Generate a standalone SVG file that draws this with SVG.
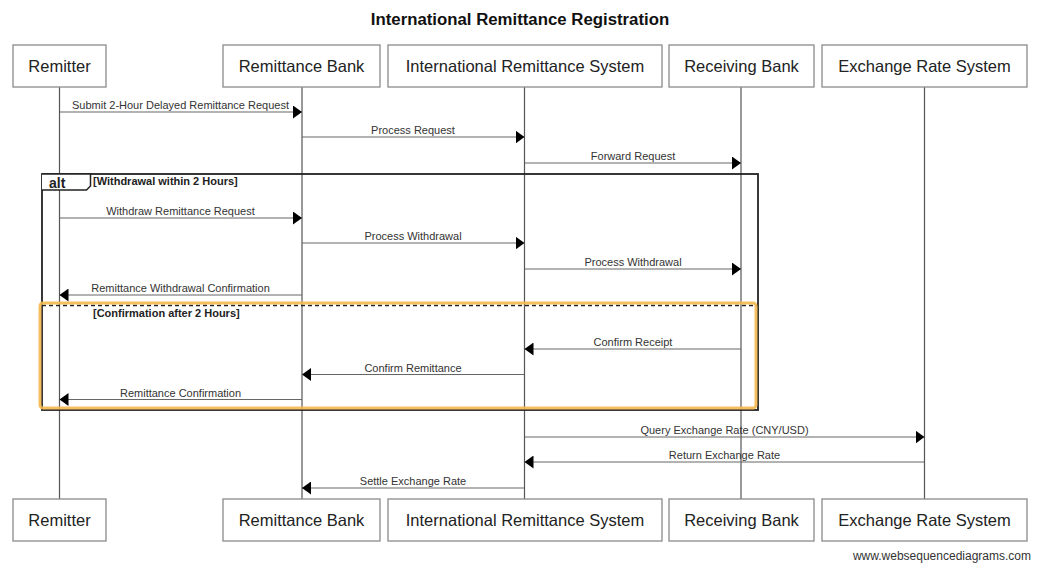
<svg xmlns="http://www.w3.org/2000/svg" width="1039" height="568" viewBox="0 0 1039 568">
<style>
.box{fill:#fff;stroke:#8a8a8a;stroke-width:1.3}
.plabel{font-family:"Liberation Sans",Arial,sans-serif;font-size:16.5px;fill:#222;text-anchor:middle}
.life{stroke:#555;stroke-width:1.2}
.msg{stroke:#666;stroke-width:1.2;fill:none;marker-end:url(#arr)}
.mlabel{font-family:"Liberation Sans",Arial,sans-serif;font-size:11px;fill:#333;text-anchor:middle}
.guard{font-family:"Liberation Sans",Arial,sans-serif;font-size:11px;font-weight:bold;fill:#222}
</style>
<defs>
<marker id="arr" markerUnits="userSpaceOnUse" markerWidth="10" markerHeight="13" refX="9" refY="6.5" orient="auto">
<path d="M0,0 L9,6.5 L0,13 z" fill="#000"/>
</marker>
</defs>
<rect width="1039" height="568" fill="#fff"/>
<text x="520" y="25" font-family="Liberation Sans,Arial,sans-serif" font-size="16.8" font-weight="bold" fill="#111" text-anchor="middle">International Remittance Registration</text>

<g id="lifelines">
<line class="life" x1="59.5" y1="87" x2="59.5" y2="499"/>
<line class="life" x1="302" y1="87" x2="302" y2="499"/>
<line class="life" x1="524.5" y1="87" x2="524.5" y2="499"/>
<line class="life" x1="741" y1="87" x2="741" y2="499"/>
<line class="life" x1="924.5" y1="87" x2="924.5" y2="499"/>
</g>

<g id="remitter">
<rect class="box" x="13" y="45" width="93" height="42"/>
<text class="plabel" x="59.5" y="72">Remitter</text>
<rect class="box" x="13" y="499" width="93" height="42"/>
<text class="plabel" x="59.5" y="526">Remitter</text>
</g>
<g id="remittance-bank">
<rect class="box" x="223" y="45" width="157" height="42"/>
<text class="plabel" x="301.5" y="72">Remittance Bank</text>
<rect class="box" x="223" y="499" width="157" height="42"/>
<text class="plabel" x="301.5" y="526">Remittance Bank</text>
</g>
<g id="intl-remittance-system">
<rect class="box" x="388" y="45" width="274" height="42"/>
<text class="plabel" x="525" y="72">International Remittance System</text>
<rect class="box" x="388" y="499" width="274" height="42"/>
<text class="plabel" x="525" y="526">International Remittance System</text>
</g>
<g id="receiving-bank">
<rect class="box" x="669" y="45" width="145" height="42"/>
<text class="plabel" x="741.5" y="72">Receiving Bank</text>
<rect class="box" x="669" y="499" width="145" height="42"/>
<text class="plabel" x="741.5" y="526">Receiving Bank</text>
</g>
<g id="exchange-rate-system">
<rect class="box" x="822" y="45" width="205" height="42"/>
<text class="plabel" x="924.5" y="72">Exchange Rate System</text>
<rect class="box" x="822" y="499" width="205" height="42"/>
<text class="plabel" x="924.5" y="526">Exchange Rate System</text>
</g>

<g id="alt-frame">
<rect x="42" y="174" width="716" height="236" fill="none" stroke="#222" stroke-width="1.8"/>
<path d="M42,174 L90.5,174 L90.5,186 L86.5,190 L42,190" fill="#fff" stroke="#222" stroke-width="1.5"/>
<text x="49" y="187.5" font-family="Liberation Sans,Arial,sans-serif" font-size="14" font-weight="bold" fill="#222">alt</text>
<text class="guard" x="93" y="185">[Withdrawal within 2 Hours]</text>
<line x1="42" y1="305.5" x2="758" y2="305.5" stroke="#222" stroke-width="1.3" stroke-dasharray="4,3"/>
<text class="guard" x="93" y="317">[Confirmation after 2 Hours]</text>
</g>

<g id="connectors">
<line class="msg" x1="59.5" y1="112" x2="302" y2="112"/>
<text class="mlabel" x="180.5" y="109">Submit 2-Hour Delayed Remittance Request</text>
<line class="msg" x1="302" y1="137" x2="524.5" y2="137"/>
<text class="mlabel" x="413" y="134">Process Request</text>
<line class="msg" x1="524.5" y1="163" x2="741" y2="163"/>
<text class="mlabel" x="633" y="160">Forward Request</text>
<line class="msg" x1="59.5" y1="218" x2="302" y2="218"/>
<text class="mlabel" x="180.5" y="215">Withdraw Remittance Request</text>
<line class="msg" x1="302" y1="243" x2="524.5" y2="243"/>
<text class="mlabel" x="413" y="240">Process Withdrawal</text>
<line class="msg" x1="524.5" y1="269" x2="741" y2="269"/>
<text class="mlabel" x="633" y="266">Process Withdrawal</text>
<line class="msg" x1="302" y1="295" x2="59.5" y2="295"/>
<text class="mlabel" x="180.5" y="292">Remittance Withdrawal Confirmation</text>
<line class="msg" x1="741" y1="349" x2="524.5" y2="349"/>
<text class="mlabel" x="633" y="346">Confirm Receipt</text>
<line class="msg" x1="524.5" y1="374.5" x2="302" y2="374.5"/>
<text class="mlabel" x="413" y="371.5">Confirm Remittance</text>
<line class="msg" x1="302" y1="399.5" x2="59.5" y2="399.5"/>
<text class="mlabel" x="180.5" y="396.5">Remittance Confirmation</text>
<line class="msg" x1="524.5" y1="437" x2="924.5" y2="437"/>
<text class="mlabel" x="724.5" y="434">Query Exchange Rate (CNY/USD)</text>
<line class="msg" x1="924.5" y1="462" x2="524.5" y2="462"/>
<text class="mlabel" x="724.5" y="459">Return Exchange Rate</text>
<line class="msg" x1="524.5" y1="488" x2="302" y2="488"/>
<text class="mlabel" x="413" y="485">Settle Exchange Rate</text>
</g>

<rect id="highlight" x="40" y="303" width="716" height="105" rx="3" fill="none" stroke="#F4B84E" stroke-width="3" stroke-opacity="0.9"/>

<text x="1031" y="560" font-family="Liberation Sans,Arial,sans-serif" font-size="12" fill="#333" text-anchor="end">www.websequencediagrams.com</text>
</svg>
